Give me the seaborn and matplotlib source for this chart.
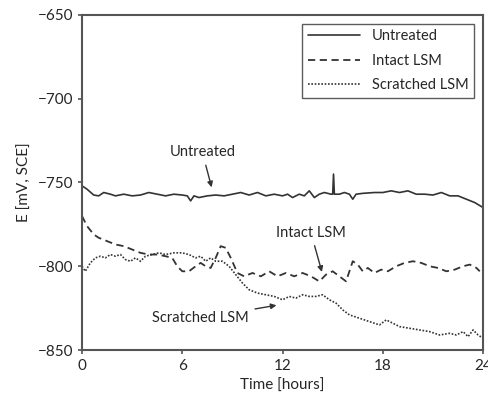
import numpy as np
import pandas as pd
import matplotlib
matplotlib.use("Agg")
import matplotlib.pyplot as plt
import seaborn as sns

sns.set_style("ticks")
plt.rcParams['font.family'] = ['Lato', 'DejaVu Sans']

# Untreated (solid)
t_untreated = [0, 0.3, 0.7, 1.0, 1.3, 1.7, 2.0, 2.5, 3.0, 3.5, 4.0, 4.5, 5.0, 5.5, 6.0, 6.3, 6.5,
               6.7, 7.0, 7.5, 8.0, 8.5, 9.0, 9.5, 10.0, 10.5, 11.0, 11.5, 12.0, 12.3, 12.6, 13.0,
               13.3, 13.6, 13.9, 14.2, 14.5, 14.9, 15.0, 15.05, 15.1, 15.4, 15.7, 16.0, 16.2, 16.4,
               16.8, 17.5, 18.0, 18.5, 19.0, 19.5, 20.0, 20.5, 21.0, 21.5, 22.0, 22.5, 23.0, 23.5, 24.0]
e_untreated = [-752, -754, -757.5, -758, -756, -757, -758, -757, -758, -757.5, -756, -757, -758,
               -757, -757.5, -758, -761, -758, -759, -758, -757.5, -758, -757, -756, -757.5, -756,
               -758, -757, -758, -757, -759, -757, -758, -755, -759, -757, -756, -757, -757, -745,
               -757, -757, -756, -757, -760, -757, -756.5, -756, -756, -755, -756, -755, -757,
               -757, -757.5, -756, -758, -758, -760, -762, -765]

# Intact LSM (dashed)
t_intact = [0, 0.3, 0.7, 1.0, 1.5, 2.0, 2.5, 3.0, 3.5, 4.0, 4.5, 5.0, 5.4, 5.7, 6.0, 6.4, 6.8, 7.1,
            7.4, 7.7, 8.0, 8.3, 8.6, 8.9, 9.3, 9.7, 10.2, 10.7, 11.2, 11.7, 12.2, 12.7, 13.2, 13.7,
            14.2, 14.6, 15.0, 15.4, 15.8, 16.0, 16.2, 16.5, 16.8, 17.1, 17.5, 17.9, 18.3, 18.8,
            19.3, 19.8, 20.3, 20.8, 21.3, 21.8, 22.3, 22.8, 23.2, 23.6, 23.8]
e_intact = [-770, -776, -781, -783, -785, -787, -788, -790, -792, -793, -793, -794, -795, -800,
            -803, -803, -800, -798, -800, -801, -795, -788, -789, -795, -804, -806, -804, -806,
            -803, -806, -804, -806, -804, -806, -809, -805, -803, -806, -809, -803, -797, -799,
            -803, -801, -804, -802, -803, -800, -798, -797, -798, -800, -801, -803, -802, -800,
            -799, -801, -803]

# Scratched LSM (dotted)
t_scratched = [0, 0.2, 0.5, 0.8, 1.1, 1.4, 1.7, 2.0, 2.3, 2.6, 2.9, 3.2, 3.5, 3.8, 4.2, 4.6, 5.0,
               5.5, 6.0, 6.4, 6.8, 7.1, 7.4, 7.7, 8.0, 8.4, 8.8, 9.2, 9.6, 10.0, 10.5, 11.0, 11.5,
               12.0, 12.4, 12.8, 13.2, 13.6, 14.0, 14.4, 14.8, 15.2, 15.6, 16.0, 16.6, 17.2, 17.8,
               18.2, 18.6, 19.0, 19.6, 20.2, 20.8, 21.4, 22.0, 22.4, 22.8, 23.1, 23.4, 23.7, 24.0]
e_scratched = [-800, -803, -798, -795, -794, -795, -793, -794, -793, -796, -797, -795, -797, -794,
               -793, -792, -793, -792, -792, -793, -795, -794, -797, -795, -797, -797, -800, -805,
               -810, -814, -816, -817, -818, -820, -818, -819, -817, -818, -818, -817, -820, -822,
               -826, -829, -831, -833, -835, -832, -834, -836, -837, -838, -839, -841, -840, -841,
               -839, -842, -838, -841, -843]

col = "#333333"

fig = plt.figure(figsize=(4.88, 4.01), dpi=100)
ax = fig.add_axes([0.168, 0.127, 0.822, 0.836])

sns.lineplot(x=t_untreated, y=e_untreated, ax=ax, color=col, lw=1.2, label="Untreated")
sns.lineplot(x=t_intact, y=e_intact, ax=ax, color=col, lw=1.3, linestyle=(0, (4, 2.5)), label="Intact LSM")
sns.lineplot(x=t_scratched, y=e_scratched, ax=ax, color=col, lw=1.2, linestyle=(0, (1, 1)), label="Scratched LSM")

ax.set_xlim(0, 24)
ax.set_ylim(-850, -650)
ax.set_xticks([0, 6, 12, 18, 24])
ax.set_yticks([-850, -800, -750, -700, -650])
ax.set_yticklabels(["\u2212850", "\u2212800", "\u2212750", "\u2212700", "\u2212650"])
ax.tick_params(labelsize=11, length=3, width=1.2, color="#555555")
for s in ax.spines.values():
    s.set_visible(True)
    s.set_linewidth(1.5)
    s.set_color("#555555")

ax.set_xlabel("Time [hours]", fontsize=11)
ax.set_ylabel("E [mV, SCE]", fontsize=11)

leg = ax.legend(loc="upper right", fontsize=10.5, frameon=True, fancybox=False,
                edgecolor="#333333", handlelength=3.6, borderaxespad=0.6, labelspacing=0.7)
leg.get_frame().set_linewidth(1.0)

arr = dict(arrowstyle="-|>", color=col, lw=1.0, mutation_scale=8)
ax.annotate("Untreated", xy=(7.8, -754.5), xytext=(7.2, -732), ha="center", va="center",
            fontsize=10.5, arrowprops=arr)
ax.annotate("Intact LSM", xy=(14.4, -805), xytext=(13.7, -780), ha="center", va="center",
            fontsize=10.5, arrowprops=arr)
ax.annotate("Scratched LSM", xy=(11.8, -823), xytext=(7.1, -831), ha="center", va="center",
            fontsize=10.5, arrowprops=arr)

fig.savefig("out.png", dpi=100)
